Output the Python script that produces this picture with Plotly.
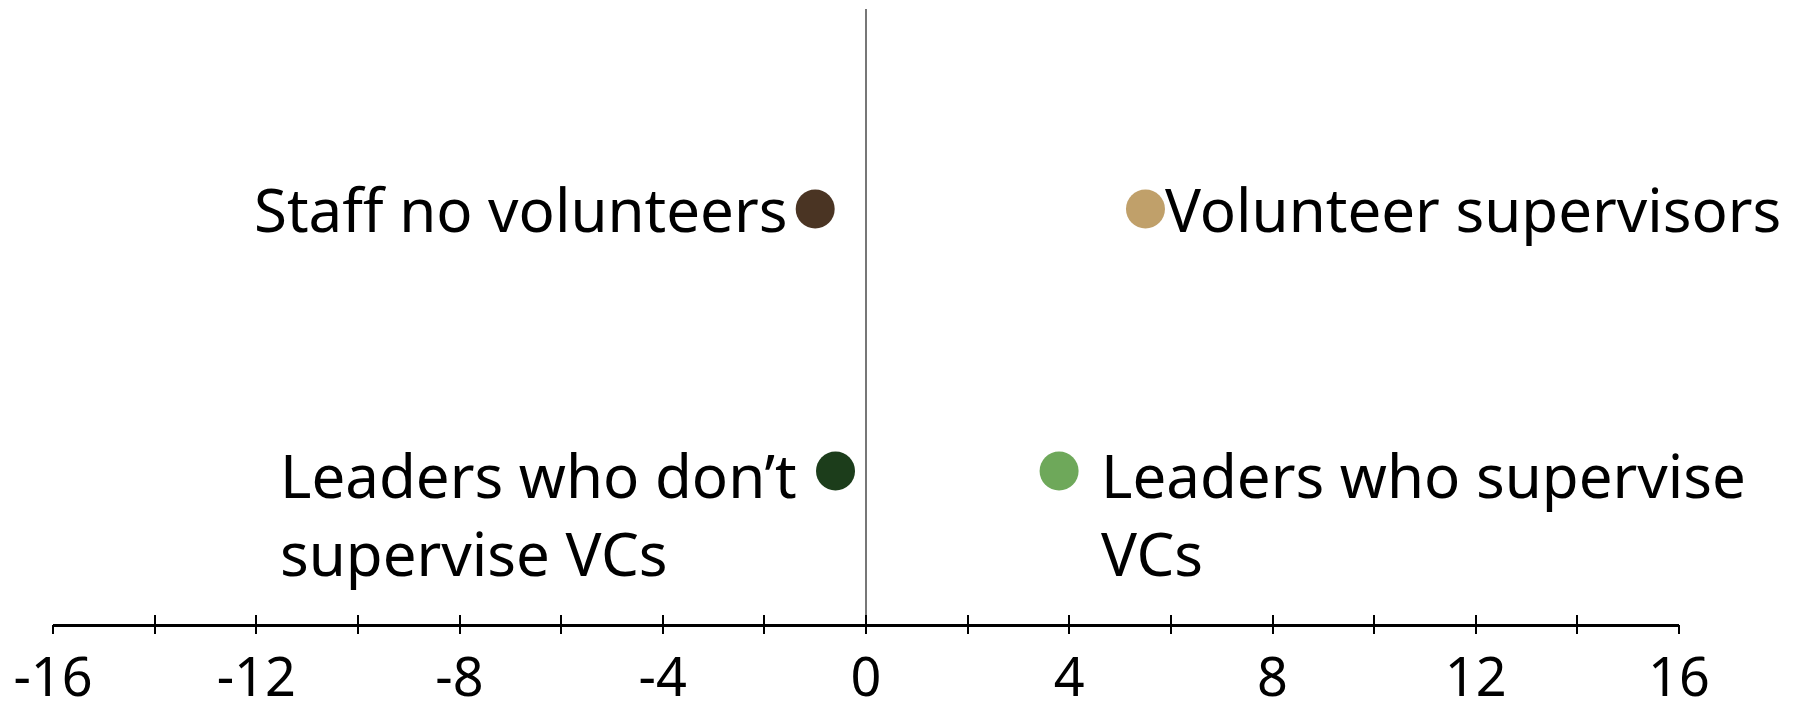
import plotly.graph_objects as go

labels = ["Staff no volunteers", "Volunteer supervisors",
          "Leaders who don’t<br>supervise VCs", "Leaders who supervise<br>VCs"]
x_vals = [-1.0, 5.5, -0.6, 3.8]
y_vals = [2, 2, 1, 1]
colors = ["#4a3423", "#c0a06a", "#1c3d1b", "#6ea85a"]
tick_vals = list(range(-16, 17, 2))
tick_text = [str(v) if v % 4 == 0 else "" for v in tick_vals]

FONT = "Noto Sans"

fig = go.Figure()
fig.add_trace(go.Scatter(
    x=x_vals, y=y_vals, mode="markers",
    marker=dict(size=39, color=colors, line=dict(width=0)),
    showlegend=False, hoverinfo="skip",
))

# label layout: (xanchor, xshift, yanchor, yshift)
label_style = [
    ("right", -26, "middle", 0),
    ("left", 18, "middle", 0),
    ("right", -37, "top", 39),
    ("left", 40, "top", 39),
]
for lab, xv, yv, (xa, xs, ya, ys) in zip(labels, x_vals, y_vals, label_style):
    fig.add_annotation(x=xv, y=yv, text=lab, showarrow=False,
                       xanchor=xa, yanchor=ya, xshift=xs, yshift=ys,
                       align="left",
                       font=dict(family=FONT, size=60, color="black"))

fig.update_layout(
    width=1794, height=708,
    margin=dict(l=45, r=123, t=1, b=92),
    paper_bgcolor="white", plot_bgcolor="white",
    xaxis=dict(range=[-16, 16], tickvals=tick_vals, ticktext=tick_text,
               ticks="inside", ticklen=9, tickwidth=2, tickcolor="black",
               showline=True, linecolor="black", linewidth=3,
               showgrid=False, zeroline=True, zerolinecolor="#777777",
               zerolinewidth=1.5, ticklabelstandoff=4, automargin=False,
               tickfont=dict(family=FONT, size=54, color="black")),
    xaxis2=dict(range=[-16, 16], tickvals=tick_vals, overlaying="x",
                side="bottom", anchor="y", automargin=False,
                ticks="outside", ticklen=9, tickwidth=2, tickcolor="black",
                showticklabels=False, showgrid=False, zeroline=False,
                showline=False),
    yaxis=dict(range=[0.416, 2.763], visible=False, showgrid=False,
               zeroline=False, automargin=False),
)
# invisible trace to activate xaxis2
fig.add_trace(go.Scatter(x=[None], y=[None], xaxis="x2", yaxis="y",
                         showlegend=False, hoverinfo="skip"))

fig.write_html("out.html")
